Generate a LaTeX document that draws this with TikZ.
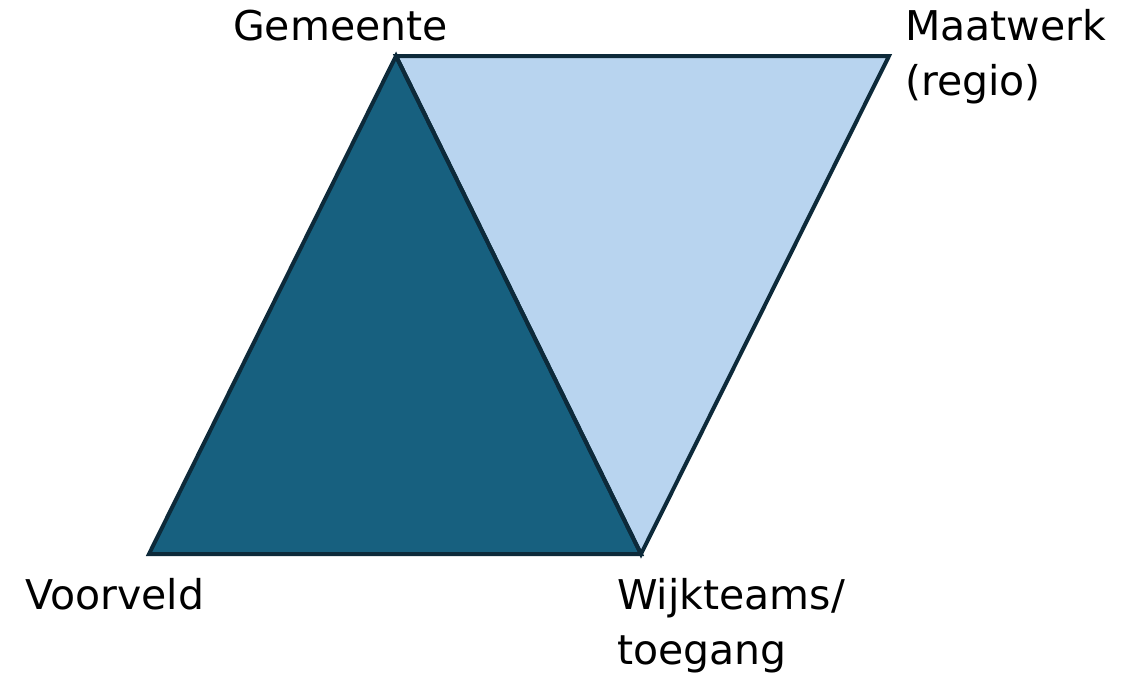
\documentclass[tikz,border=0pt]{standalone}
\usepackage{fontspec}
\setmainfont{DejaVu Sans}
\definecolor{darkfill}{HTML}{17607F}
\definecolor{lightfill}{HTML}{B8D4EF}
\definecolor{edge}{HTML}{0D2A3A}
\tikzset{
  tri/.style={draw=edge, line width=4pt, line join=miter},
  lbl/.style={font=\fontsize{41}{55}\selectfont, inner sep=0pt, anchor=base west}
}
\begin{document}
\begin{tikzpicture}[x=1pt,y=-1pt]
\useasboundingbox (0,0) rectangle (1140,680);
\coordinate (G) at (396,56);
\coordinate (M) at (889,56);
\coordinate (W) at (641,554);
\coordinate (V) at (149,554);
\fill[lightfill] (G) -- (M) -- (W) -- cycle;
\fill[darkfill] (G) -- (W) -- (V) -- cycle;
\draw[tri] (G) -- (M) -- (W) -- cycle;
\draw[tri] (G) -- (W) -- (V) -- cycle;
\node[lbl] (gem) at (233,40) {Gemeente};
\node[lbl] (maat1) at (905,40) {Maatwerk};
\node[lbl] (maat2) at (905,95) {(regio)};
\node[lbl] (voor) at (25,609) {Voorveld};
\node[lbl] (wijk1) at (617,609) {Wijkteams/};
\node[lbl] (wijk2) at (617,664) {toegang};
\end{tikzpicture}
\end{document}
